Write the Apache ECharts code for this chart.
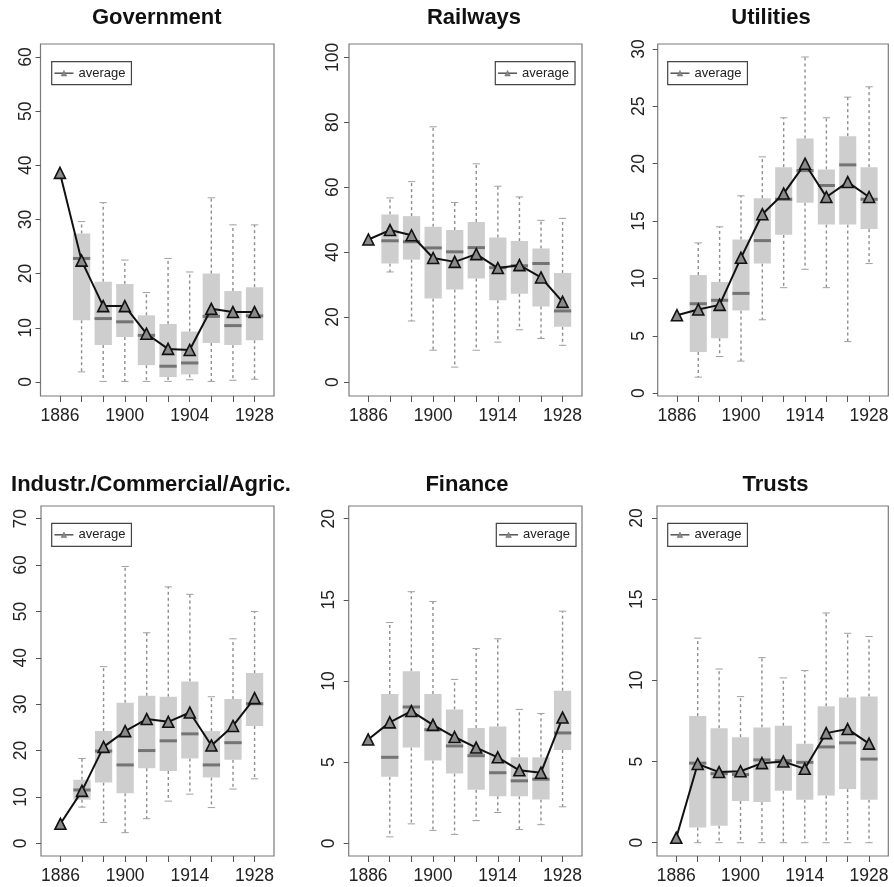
<!DOCTYPE html>
<html>
<head>
<meta charset="utf-8">
<script src="https://cdn.jsdelivr.net/npm/echarts@6/dist/echarts.min.js"></script>
<style>
html,body{margin:0;padding:0;background:#fff;}
#chart{width:894px;height:887px;}
</style>
</head>
<body>
<div id="chart"></div>
<script>
// ---------------- DATA ----------------
// x positions 1..10 ; tick labels shown at positions 1,4,7,10
const TICK_POS = [1, 4, 7, 10];
const GOV_TICKS = ['1886', '1900', '1904', '1928'];
const STD_TICKS = ['1886', '1900', '1914', '1928'];

// boxes: [lower whisker, Q1, median, Q3, upper whisker]; null = no box
const govBoxes = [null,
  [1.85, 11.4, 22.8, 27.4, 29.6],
  [0.1, 6.8, 11.7, 18.5, 33.1],
  [0.1, 8.3, 11.1, 18.1, 22.5],
  [0.1, 3.1, 8.6, 12.3, 16.5],
  [0.1, 0.9, 2.9, 10.7, 22.8],
  [0.4, 1.4, 3.5, 9.3, 20.3],
  [0.1, 7.2, 12.1, 20.0, 34.0],
  [0.3, 6.8, 10.4, 16.8, 29.0],
  [0.5, 7.7, 12.2, 17.5, 29.0]];
const govAvg = [38.6, 22.4, 14.0, 14.0, 8.9, 6.1, 5.9, 13.5, 12.9, 12.9];

const railBoxes = [null,
  [33.9, 36.5, 43.5, 51.6, 56.7],
  [18.8, 37.7, 43.2, 51.1, 61.7],
  [9.8, 25.7, 41.3, 47.8, 78.6],
  [4.6, 28.5, 40.1, 46.8, 55.3],
  [9.8, 31.9, 41.4, 49.3, 67.2],
  [12.3, 25.2, 35.2, 44.5, 60.3],
  [16.1, 27.2, 35.8, 43.4, 57.0],
  [13.4, 23.3, 36.5, 41.1, 49.8],
  [11.3, 17.0, 21.9, 33.6, 50.4]];
const railAvg = [43.9, 46.8, 45.2, 38.2, 37.0, 39.4, 35.1, 36.0, 32.2, 24.7];

const utilBoxes = [null,
  [1.4, 3.6, 7.8, 10.3, 13.1],
  [3.2, 4.8, 8.1, 9.7, 14.5],
  [2.8, 7.2, 8.7, 13.4, 17.2],
  [6.4, 11.3, 13.3, 17.0, 20.6],
  [9.2, 13.8, 16.9, 19.7, 24.0],
  [10.8, 16.6, 19.4, 22.2, 29.3],
  [9.2, 14.7, 18.1, 19.5, 24.0],
  [4.5, 14.7, 19.9, 22.4, 25.8],
  [11.3, 14.3, 16.9, 19.7, 26.7]];
const utilAvg = [6.8, 7.3, 7.7, 11.8, 15.6, 17.4, 20.0, 17.1, 18.4, 17.1];

const indBoxes = [null,
  [7.8, 9.4, 11.5, 13.7, 18.3],
  [4.5, 13.1, 19.9, 24.2, 38.1],
  [2.3, 10.8, 16.9, 30.3, 59.7],
  [5.3, 16.2, 20.0, 31.8, 45.4],
  [9.1, 15.6, 22.1, 31.6, 55.3],
  [10.6, 18.3, 23.6, 34.9, 53.7],
  [7.7, 14.2, 16.9, 24.2, 31.6],
  [11.7, 18.0, 21.7, 31.1, 44.1],
  [13.9, 25.3, 30.1, 36.7, 50.0]];
const indAvg = [4.2, 11.3, 20.8, 24.2, 26.8, 26.2, 28.2, 21.1, 25.3, 31.3];

const finBoxes = [null,
  [0.4, 4.1, 5.3, 9.2, 13.6],
  [1.2, 5.9, 8.4, 10.6, 15.5],
  [0.8, 5.1, 7.0, 9.2, 14.9],
  [0.55, 4.3, 6.0, 8.25, 10.1],
  [1.4, 3.3, 5.4, 7.1, 12.0],
  [1.9, 2.9, 4.35, 7.2, 12.6],
  [0.85, 2.9, 3.85, 5.3, 8.25],
  [1.15, 2.7, 3.95, 5.3, 8.0],
  [2.25, 5.75, 6.8, 9.4, 14.3]];
const finAvg = [6.4, 7.45, 8.15, 7.3, 6.55, 5.9, 5.3, 4.5, 4.35, 7.75];

const trustBoxes = [null,
  [0, 0.93, 4.9, 7.8, 12.6],
  [0, 1.05, 4.25, 7.05, 10.7],
  [0, 2.57, 4.2, 6.5, 9.0],
  [0, 2.5, 5.1, 7.1, 11.4],
  [0, 3.2, 5.05, 7.2, 10.15],
  [0, 2.65, 4.95, 6.1, 10.6],
  [0, 2.9, 5.9, 8.4, 14.15],
  [0, 3.3, 6.15, 8.95, 12.9],
  [0, 2.65, 5.15, 9.0, 12.7]];
const trustAvg = [0.3, 4.85, 4.35, 4.4, 4.9, 5.0, 4.55, 6.75, 7.0, 6.1];

// ---------------- LAYOUT / STYLE ----------------
const FONT = '"Liberation Sans", Arial, Helvetica, sans-serif';
const panels = [
  {title: 'Government', tx: 156.7, ty: 7, grid: {left: 40.5, top: 44, width: 233.5, height: 352},
   y: [-2.6, 62.4], yTicks: [0, 10, 20, 30, 40, 50, 60], ym: 5, ticks: GOV_TICKS, boxes: govBoxes, avg: govAvg, lg: [51.7, 61.7]},
  {title: 'Railways', tx: 474, ty: 7, grid: {left: 349, top: 44, width: 233, height: 352},
   y: [-4.3, 104.1], yTicks: [0, 20, 40, 60, 80, 100], ym: 7, ticks: STD_TICKS, boxes: railBoxes, avg: railAvg, lg: [495.3, 61.7]},
  {title: 'Utilities', tx: 771, ty: 7, grid: {left: 657.7, top: 44, width: 230.6, height: 352},
   y: [-0.24, 30.43], yTicks: [0, 5, 10, 15, 20, 25, 30], ym: 10, ticks: STD_TICKS, boxes: utilBoxes, avg: utilAvg, lg: [667.7, 61.7]},
  {title: 'Industr./Commercial/Agric.', tx: 151, ty: 474, grid: {left: 41, top: 506, width: 233, height: 350},
   y: [-2.74, 72.74], yTicks: [0, 10, 20, 30, 40, 50, 60, 70], ym: 10.5, ticks: STD_TICKS, boxes: indBoxes, avg: indAvg, lg: [51.7, 523.3]},
  {title: 'Finance', tx: 467, ty: 474, grid: {left: 348.7, top: 506, width: 233.3, height: 350},
   y: [-0.78, 20.78], yTicks: [0, 5, 10, 15, 20], ym: 10.5, ticks: STD_TICKS, boxes: finBoxes, avg: finAvg, lg: [496.3, 523.3]},
  {title: 'Trusts', tx: 775.5, ty: 474, grid: {left: 657, top: 506, width: 231.3, height: 350},
   y: [-0.82, 20.74], yTicks: [0, 5, 10, 15, 20], ym: 11, ticks: STD_TICKS, boxes: trustBoxes, avg: trustAvg, lg: [667.7, 523.3]}
];

function renderBox(params, api) {
  const x = api.value(0);
  const lo = api.coord([x, api.value(1)]);
  const q1 = api.coord([x, api.value(2)]);
  const md = api.coord([x, api.value(3)]);
  const q3 = api.coord([x, api.value(4)]);
  const hi = api.coord([x, api.value(5)]);
  const band = api.size([1, 0])[0];
  const half = band * 0.4;
  const cap = band * 0.17;
  const cx = md[0];
  const dash = {stroke: '#8e8e8e', lineWidth: 1.4, lineDash: [3, 3]};
  const capStyle = {stroke: '#a0a0a0', lineWidth: 1};
  return {
    type: 'group',
    children: [
      {type: 'line', shape: {x1: cx, y1: q3[1], x2: cx, y2: hi[1]}, style: dash},
      {type: 'line', shape: {x1: cx, y1: q1[1], x2: cx, y2: lo[1]}, style: dash},
      {type: 'line', shape: {x1: cx - cap, y1: hi[1], x2: cx + cap, y2: hi[1]}, style: capStyle},
      {type: 'line', shape: {x1: cx - cap, y1: lo[1], x2: cx + cap, y2: lo[1]}, style: capStyle},
      {type: 'rect', shape: {x: cx - half, y: q3[1], width: half * 2, height: q1[1] - q3[1]}, style: {fill: '#cecece'}},
      {type: 'line', shape: {x1: cx - half, y1: md[1], x2: cx + half, y2: md[1]}, style: {stroke: '#747474', lineWidth: 3}}
    ]
  };
}

const ALL_POS = [1, 2, 3, 4, 5, 6, 7, 8, 9, 10];
const option = {
  animation: false,
  backgroundColor: '#ffffff',
  title: panels.map(p => ({
    text: p.title, left: p.tx, top: p.ty, textAlign: 'center', padding: 0,
    textStyle: {fontFamily: FONT, fontSize: 22, fontWeight: 'bold', color: '#111'}
  })),
  legend: panels.map(p => ({
    data: ['average'], left: p.lg[0], top: p.lg[1], selectedMode: false,
    borderColor: '#444', borderWidth: 1.2, padding: [5, 6, 5, 2],
    itemWidth: 19, itemHeight: 7,
    textStyle: {fontFamily: FONT, fontSize: 13, color: '#222'},
    itemStyle: {color: '#888', borderColor: '#666', borderWidth: 0.5},
    lineStyle: {color: '#555', width: 1.5}
  })),
  grid: panels.map(p => Object.assign({show: true, borderColor: '#7a7a7a', borderWidth: 1.2, backgroundColor: 'transparent'}, p.grid)),
  xAxis: panels.map((p, i) => ({
    type: 'value', gridIndex: i, min: 0.1, max: 10.9,
    splitLine: {show: false},
    axisLine: {show: false, onZero: false},
    axisTick: {show: true, customValues: ALL_POS, length: 6, lineStyle: {color: '#555', width: 1}},
    axisLabel: {
      customValues: TICK_POS, margin: 11, fontSize: 17.5, color: '#222', fontFamily: FONT,
      formatter: v => p.ticks[TICK_POS.indexOf(Math.round(v))] || ''
    }
  })),
  yAxis: panels.map((p, i) => ({
    type: 'value', gridIndex: i, min: p.y[0], max: p.y[1],
    splitLine: {show: false},
    axisLine: {show: false, onZero: false},
    axisTick: {show: true, customValues: p.yTicks, length: 5, lineStyle: {color: '#555', width: 1}},
    axisLabel: {customValues: p.yTicks, rotate: 90, margin: p.ym, fontSize: 17.5, color: '#222', fontFamily: FONT}
  })),
  series: []
};

panels.forEach((p, i) => {
  option.series.push({
    type: 'custom', xAxisIndex: i, yAxisIndex: i, silent: true, z: 1,
    renderItem: renderBox,
    encode: {x: 0, y: [1, 2, 3, 4, 5]},
    data: p.boxes.map((b, k) => b ? [k + 1].concat(b) : null).filter(Boolean)
  });
  option.series.push({
    type: 'line', name: 'average', xAxisIndex: i, yAxisIndex: i, z: 3,
    data: p.avg.map((v, k) => [k + 1, v]),
    symbol: 'triangle', symbolSize: 11, showAllSymbol: true,
    lineStyle: {color: '#111', width: 2},
    itemStyle: {color: '#8a8a8a', borderColor: '#111', borderWidth: 1.6}
  });
});

const chart = echarts.init(document.getElementById('chart'), null, {renderer: 'canvas'});
chart.setOption(option);
</script>
</body>
</html>
